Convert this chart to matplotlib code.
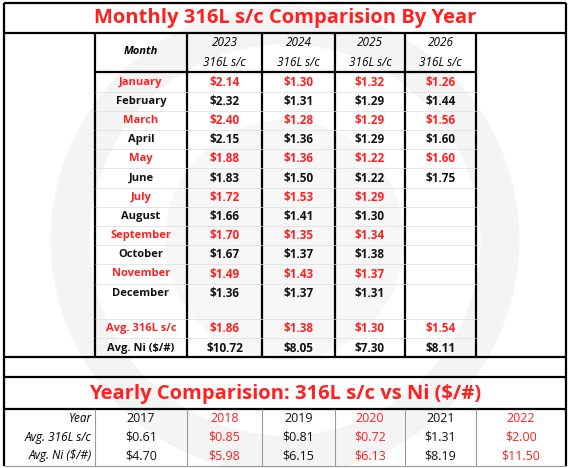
import matplotlib
matplotlib.use("Agg")
import matplotlib.pyplot as plt
from matplotlib.patches import Circle

plt.rcParams['font.family'] = ['Open Sans', 'DejaVu Sans']

months = ["January", "February", "March", "April", "May", "June", "July",
          "August", "September", "October", "November", "December"]
years = ["2023", "2024", "2025", "2026"]
v2023 = ["$2.14", "$2.32", "$2.40", "$2.15", "$1.88", "$1.83", "$1.72", "$1.66", "$1.70", "$1.67", "$1.49", "$1.36"]
v2024 = ["$1.30", "$1.31", "$1.28", "$1.36", "$1.36", "$1.50", "$1.53", "$1.41", "$1.35", "$1.37", "$1.43", "$1.37"]
v2025 = ["$1.32", "$1.29", "$1.29", "$1.29", "$1.22", "$1.22", "$1.29", "$1.30", "$1.34", "$1.38", "$1.37", "$1.31"]
v2026 = ["$1.26", "$1.44", "$1.56", "$1.60", "$1.60", "$1.75", "", "", "", "", "", ""]
avg316 = ["$1.86", "$1.38", "$1.30", "$1.54"]
avgNi = ["$10.72", "$8.05", "$7.30", "$8.11"]

yr_years = ["2017", "2018", "2019", "2020", "2021", "2022"]
yr_316 = ["$0.61", "$0.85", "$0.81", "$0.72", "$1.31", "$2.00"]
yr_ni = ["$4.70", "$5.98", "$6.15", "$6.13", "$8.19", "$11.50"]

RED = "#ff2020"
BLK = "#111111"
BW = "bold"

fig = plt.figure(figsize=(5.69, 4.68), dpi=100)
ax = fig.add_axes([0, 0, 1, 1])
ax.set_xlim(0, 569)
ax.set_ylim(468, 0)
ax.axis("off")

ax.add_patch(Circle((285, 240), 215, fill=False, lw=28, ec="#f4f4f4", zorder=0))
ax.add_patch(Circle((285, 240), 120, fill=True, lw=0, fc="#f7f7f7", zorder=0))

cols = [95, 187, 262, 335, 405, 476]
centers = [(cols[i] + cols[i + 1]) / 2 for i in range(5)]

def line(x0, y0, x1, y1, lw=1.6, c="black"):
    ax.plot([x0, x1], [y0, y1], color=c, lw=lw, zorder=3, solid_capstyle="butt")

line(4, 3, 566, 3)
line(4, 3, 4, 466)
line(566, 3, 566, 466)
line(4, 33, 566, 33)
line(4, 357, 566, 357)
line(4, 377, 566, 377)
line(4, 409, 566, 409)
for x in cols:
    line(x, 33, x, 357)
line(95, 72, 476, 72)
rows_y = [82 + 19.2 * i for i in range(12)]
for y in [91.6 + 19.2 * i for i in range(11)]:
    line(95, y, 476, y, lw=0.5, c="#dcdcdc")
for y in [319, 338]:
    line(95, y, 476, y, lw=0.5, c="#dcdcdc")

ax.text(285, 18, "Monthly 316L s/c Comparision By Year", color=RED, fontsize=14.5,
        ha="center", va="center", fontweight="bold")
ax.text(centers[0], 52, "Month", ha="center", va="center", fontsize=8, style="italic", fontweight=BW)
for i, yv in enumerate(years):
    ax.text(centers[i + 1], 43, yv, ha="center", va="center", fontsize=8.5, style="italic")
    ax.text(centers[i + 1], 62, "316L s/c", ha="center", va="center", fontsize=8.5, style="italic")

series = [v2023, v2024, v2025, v2026]
for r, m in enumerate(months):
    c = RED if r % 2 == 0 else BLK
    y = rows_y[r]
    ax.text(centers[0], y, m, ha="center", va="center", fontsize=8, color=c, fontweight=BW)
    for j, s in enumerate(series):
        if s[r]:
            ax.text(centers[j + 1], y, s[r], ha="center", va="center", fontsize=8.5, color=c, fontweight=BW)

ax.text(centers[0], 329, "Avg. 316L s/c", ha="center", va="center", fontsize=8, color=RED, fontweight=BW)
ax.text(centers[0], 348, "Avg. Ni ($/#)", ha="center", va="center", fontsize=8, color=BLK, fontweight=BW)
for j in range(4):
    ax.text(centers[j + 1], 329, avg316[j], ha="center", va="center", fontsize=8.5, color=RED, fontweight=BW)
    ax.text(centers[j + 1], 348, avgNi[j], ha="center", va="center", fontsize=8.5, color=BLK, fontweight=BW)

ax.text(285, 394, "Yearly Comparision: 316L s/c vs Ni ($/#)", color=RED, fontsize=14.5,
        ha="center", va="center", fontweight="bold")

ycols = [95, 187, 262, 335, 405, 476, 566]
ycent = [(ycols[i] + ycols[i + 1]) / 2 for i in range(6)]
for x in ycols[:-1]:
    line(x, 409, x, 466, lw=0.8, c="#999999")
line(4, 466, 566, 466, lw=0.8, c="#999999")
for y, lab in zip([418, 437, 456], ["Year", "Avg. 316L s/c", "Avg. Ni ($/#)"]):
    ax.text(92, y, lab, ha="right", va="center", fontsize=8.5, style="italic")
for i in range(6):
    c = RED if i % 2 == 1 else BLK
    ax.text(ycent[i], 418, yr_years[i], ha="center", va="center", fontsize=9, color=c)
    ax.text(ycent[i], 437, yr_316[i], ha="center", va="center", fontsize=9, color=c)
    ax.text(ycent[i], 456, yr_ni[i], ha="center", va="center", fontsize=9, color=c)

fig.savefig("out.png", dpi=100, facecolor="white")
